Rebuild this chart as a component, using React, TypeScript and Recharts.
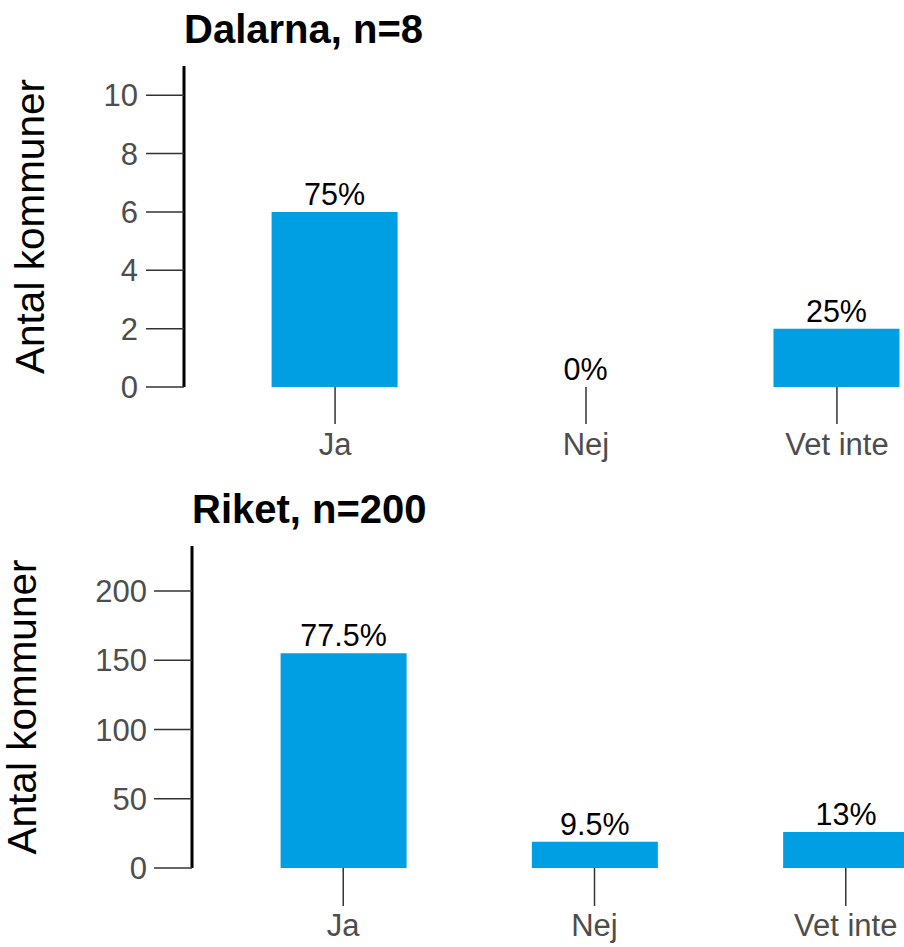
import React from 'react';
import { BarChart, Bar, XAxis, YAxis, LabelList } from 'recharts';

const categories = ['Ja', 'Nej', 'Vet inte'];

const dalarnaCounts = [6, 0, 2];
const dalarnaLabels = ['75%', '0%', '25%'];
const dalarnaTicks = [0, 2, 4, 6, 8, 10];

const riketCounts = [155, 19, 26];
const riketLabels = ['77.5%', '9.5%', '13%'];
const riketTicks = [0, 50, 100, 150, 200];

const FONT = '"Liberation Sans", Arial, sans-serif';
const BLUE = '#009FE3';
const TICK_GREY = '#4d4d4d';

const build = (counts: number[], labels: string[]) =>
  categories.map((category, i) => ({ category, count: counts[i], label: labels[i] }));

interface PanelProps {
  title: string;
  data: { category: string; count: number; label: string }[];
  ticks: number[];
  yMax: number;
  width: number;
  height: number;
  marginTop: number;
  marginRight: number;
  yAxisWidth: number;
  xAxisHeight: number;
  xTickSize: number;
  xTickMargin: number;
  yTickMargin: number;
  titleDx: number;
  titleY: number;
}

// value labels drawn for every bar, including the zero-height one
const ValueLabel = (props: any) => {
  const { x, y, width, value } = props;
  return (
    <text
      x={Number(x) + Number(width) / 2}
      y={Number(y) - 7}
      textAnchor="middle"
      fill="#000000"
      fontSize={30.5}
      fontFamily={FONT}
    >
      {value}
    </text>
  );
};

const Panel: React.FC<PanelProps> = (p) => {
  return (
    <div style={{ position: 'relative', width: p.width, height: p.height }}>
      <BarChart
        width={p.width}
        height={p.height}
        data={p.data}
        margin={{ top: p.marginTop, right: p.marginRight, bottom: 0, left: 0 }}
      >
        <XAxis
          dataKey="category"
          axisLine={false}
          interval={0}
          height={p.xAxisHeight}
          padding={{ left: 25.6, right: 25.6 }}
          tickSize={p.xTickSize}
          tickMargin={p.xTickMargin}
          tickLine={{ stroke: '#333333', strokeWidth: 1.5 }}
          tick={{ fill: TICK_GREY, fontSize: 31, fontFamily: FONT }}
        />
        <YAxis
          type="number"
          domain={[0, p.yMax]}
          ticks={p.ticks}
          allowDataOverflow
          width={p.yAxisWidth}
          axisLine={{ stroke: '#000000', strokeWidth: 3 }}
          tickSize={38}
          tickMargin={p.yTickMargin}
          tickLine={{ stroke: '#333333', strokeWidth: 1.5 }}
          tick={{ fill: TICK_GREY, fontSize: 31, fontFamily: FONT }}
          label={{
            value: 'Antal kommuner',
            angle: -90,
            position: 'center',
            dx: p.titleDx,
            fill: '#000000',
            fontSize: 40.5,
            fontFamily: FONT,
          }}
        />
        <Bar
          dataKey="count"
          fill={BLUE}
          barSize={126}
          minPointSize={0.01}
          isAnimationActive={false}
        >
          <LabelList dataKey="label" content={ValueLabel} />
        </Bar>
      </BarChart>
      <svg
        width={p.width}
        height={70}
        style={{ position: 'absolute', left: 0, top: 0, pointerEvents: 'none' }}
      >
        <text
          x={p.yAxisWidth}
          y={p.titleY}
          fontFamily={FONT}
          fontWeight="bold"
          fontSize={40}
          fill="#000000"
        >
          {p.title}
        </text>
      </svg>
    </div>
  );
};

export default function App() {
  return (
    <div
      style={{
        position: 'absolute',
        left: 0,
        top: 0,
        width: 904,
        height: 947,
        overflow: 'hidden',
        background: '#ffffff',
      }}
    >
      <Panel
        title="Dalarna, n=8"
        data={build(dalarnaCounts, dalarnaLabels)}
        ticks={dalarnaTicks}
        yMax={11}
        width={1000}
        height={470}
        marginTop={66}
        marginRight={12}
        yAxisWidth={184}
        xAxisHeight={83}
        xTickSize={37}
        xTickMargin={9}
        yTickMargin={8}
        titleDx={-62}
        titleY={43}
      />
      <Panel
        title="Riket, n=200"
        data={build(riketCounts, riketLabels)}
        ticks={riketTicks}
        yMax={232.5}
        width={1010}
        height={477}
        marginTop={76}
        marginRight={13}
        yAxisWidth={192}
        xAxisHeight={79}
        xTickSize={38}
        xTickMargin={8}
        yTickMargin={7}
        titleDx={-74}
        titleY={53}
      />
    </div>
  );
}
